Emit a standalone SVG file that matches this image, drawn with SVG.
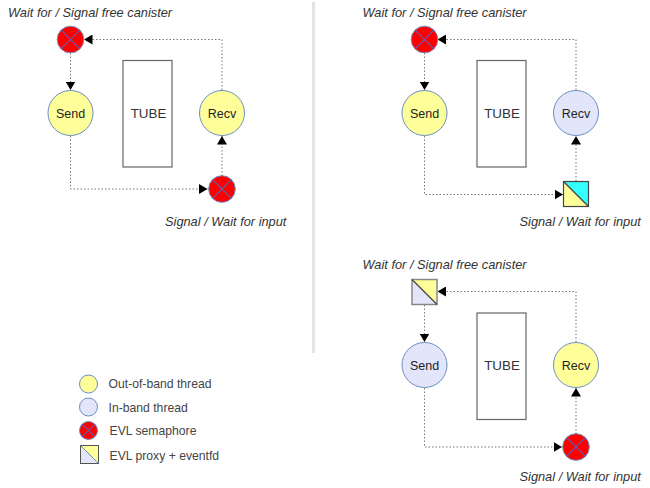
<svg xmlns="http://www.w3.org/2000/svg" width="650" height="488" viewBox="0 0 650 488">
<style>
text{font-family:"Liberation Sans",Arial,sans-serif;fill:#222}
.cap{font-size:12.800px;font-style:italic;fill:#333}
.lbl{font-size:12.500px;text-anchor:middle}
.tube{font-size:13.400px;text-anchor:middle;fill:#333}
.leg{font-size:12.200px;fill:#444}
.box{fill:#fff;stroke:#666;stroke-width:1.200}
.oob{fill:#ffff99;stroke:#6c8ebf;stroke-width:1}
.inb{fill:#e3e6fb;stroke:#6c8ebf;stroke-width:1}
.sem{fill:#ff0000;stroke:#6c8ebf;stroke-width:1}
.x{stroke:#5560c0;stroke-width:1.100;fill:none}
.c{fill:none;stroke:#777;stroke-width:1;stroke-dasharray:1.500 2}
.sq{stroke:#444;stroke-width:1.200}
</style>
<defs>
<marker id="a" markerUnits="userSpaceOnUse" markerWidth="10" markerHeight="10" refX="8.500" refY="5" orient="auto"><path d="M0 0L8.500 5L0 10Z" fill="#000"/></marker>
<g id="semaphore"><circle class="sem" r="13.300"/><path class="x" d="M-9.400-9.400L9.400 9.400M-9.400 9.400L9.400-9.400"/></g>
</defs>
<rect x="312" y="2" width="3" height="351" fill="#e4e4e4"/>
<g id="connectors">
<path class="c" d="M70.500 53V90" marker-end="url(#a)"/>
<path class="c" d="M70.500 136V189H207.500" marker-end="url(#a)"/>
<path class="c" d="M222 176V136" marker-end="url(#a)"/>
<path class="c" d="M222 90V39.500H84" marker-end="url(#a)"/>
<path class="c" d="M424.500 53V90" marker-end="url(#a)"/>
<path class="c" d="M424.500 136V194.500H563" marker-end="url(#a)"/>
<path class="c" d="M576 181V136" marker-end="url(#a)"/>
<path class="c" d="M576 90V39.500H437.500" marker-end="url(#a)"/>
<path class="c" d="M424.500 305V342" marker-end="url(#a)"/>
<path class="c" d="M424.500 388V447H562" marker-end="url(#a)"/>
<path class="c" d="M576 434V388" marker-end="url(#a)"/>
<path class="c" d="M576 342V291.500H437.500" marker-end="url(#a)"/>
</g>
<g id="panel1">
<text class="cap" x="8" y="16.500">Wait for / Signal free canister</text>
<text class="cap" x="165" y="225.500">Signal / Wait for input</text>
<g id="p1-sem-top"><use href="#semaphore" x="70.500" y="39.500"/></g>
<g id="p1-send"><circle class="oob" cx="70.500" cy="113" r="22.500"/><text class="lbl" x="70.500" y="117.500">Send</text></g>
<g id="p1-tube"><rect class="box" x="123" y="60.500" width="49" height="106.500"/><text class="tube" x="148.500" y="118">TUBE</text></g>
<g id="p1-recv"><circle class="oob" cx="222" cy="113" r="22.500"/><text class="lbl" x="222" y="117.500">Recv</text></g>
<g id="p1-sem-bottom"><use href="#semaphore" x="222" y="189"/></g>
</g>
<g id="panel2">
<text class="cap" x="362.500" y="16.500">Wait for / Signal free canister</text>
<text class="cap" x="519.500" y="225.500">Signal / Wait for input</text>
<g id="p2-sem-top"><use href="#semaphore" x="424.500" y="39.500"/></g>
<g id="p2-send"><circle class="oob" cx="424.500" cy="113" r="22.500"/><text class="lbl" x="424.500" y="117.500">Send</text></g>
<g id="p2-tube"><rect class="box" x="477" y="60.500" width="49" height="106.500"/><text class="tube" x="502" y="118">TUBE</text></g>
<g id="p2-recv"><circle class="inb" cx="576" cy="113" r="22.500"/><text class="lbl" x="576" y="117.500">Recv</text></g>
<g id="p2-proxy"><path d="M563.500 181.500H588.500V206.500Z" fill="#33ffff"/><path d="M563.500 181.500V206.500H588.500Z" fill="#ffff99"/><rect class="sq" x="563.500" y="181.500" width="25" height="25" fill="none"/><path class="sq" d="M563.500 181.500L588.500 206.500"/></g>
</g>
<g id="panel3">
<text class="cap" x="362.500" y="268.500">Wait for / Signal free canister</text>
<text class="cap" x="519.500" y="480.500">Signal / Wait for input</text>
<g id="p3-proxy"><path d="M412 279.500H437V304.500Z" fill="#ffff99"/><path d="M412 279.500V304.500H437Z" fill="#e3e6fb"/><rect x="412" y="279.500" width="25" height="25" fill="none" stroke="#888" stroke-width="1.500"/><path class="sq" d="M412 279.500L437 304.500"/></g>
<g id="p3-send"><circle class="inb" cx="424.500" cy="365" r="22.500"/><text class="lbl" x="424.500" y="369.500">Send</text></g>
<g id="p3-tube"><rect class="box" x="477" y="313" width="49" height="106.500"/><text class="tube" x="502" y="370">TUBE</text></g>
<g id="p3-recv"><circle class="oob" cx="576" cy="365" r="22.500"/><text class="lbl" x="576" y="369.500">Recv</text></g>
<g id="p3-sem"><use href="#semaphore" x="576" y="447"/></g>
</g>
<g id="legend">
<g id="leg-oob"><circle class="oob" cx="88.500" cy="384" r="9"/><text class="leg" x="108.500" y="388">Out-of-band thread</text></g>
<g id="leg-inb"><circle class="inb" cx="88.500" cy="407" r="9"/><text class="leg" x="108.500" y="411.500">In-band thread</text></g>
<g id="leg-sem"><circle class="sem" cx="88.500" cy="430.500" r="9"/><path class="x" d="M82.100 424.100L94.900 436.900M82.100 436.900L94.900 424.100"/><text class="leg" x="109.500" y="434.500">EVL semaphore</text></g>
<g id="leg-proxy"><path d="M80.500 445.500H98.500V463.500Z" fill="#ffff99"/><path d="M80.500 445.500V463.500H98.500Z" fill="#e3e6fb"/><rect x="80.500" y="445.500" width="18" height="18" fill="none" stroke="#555"/><path d="M80.500 445.500L98.500 463.500" stroke="#6c8ebf"/><text class="leg" x="109.500" y="459.500">EVL proxy + eventfd</text></g>
</g>
</svg>
